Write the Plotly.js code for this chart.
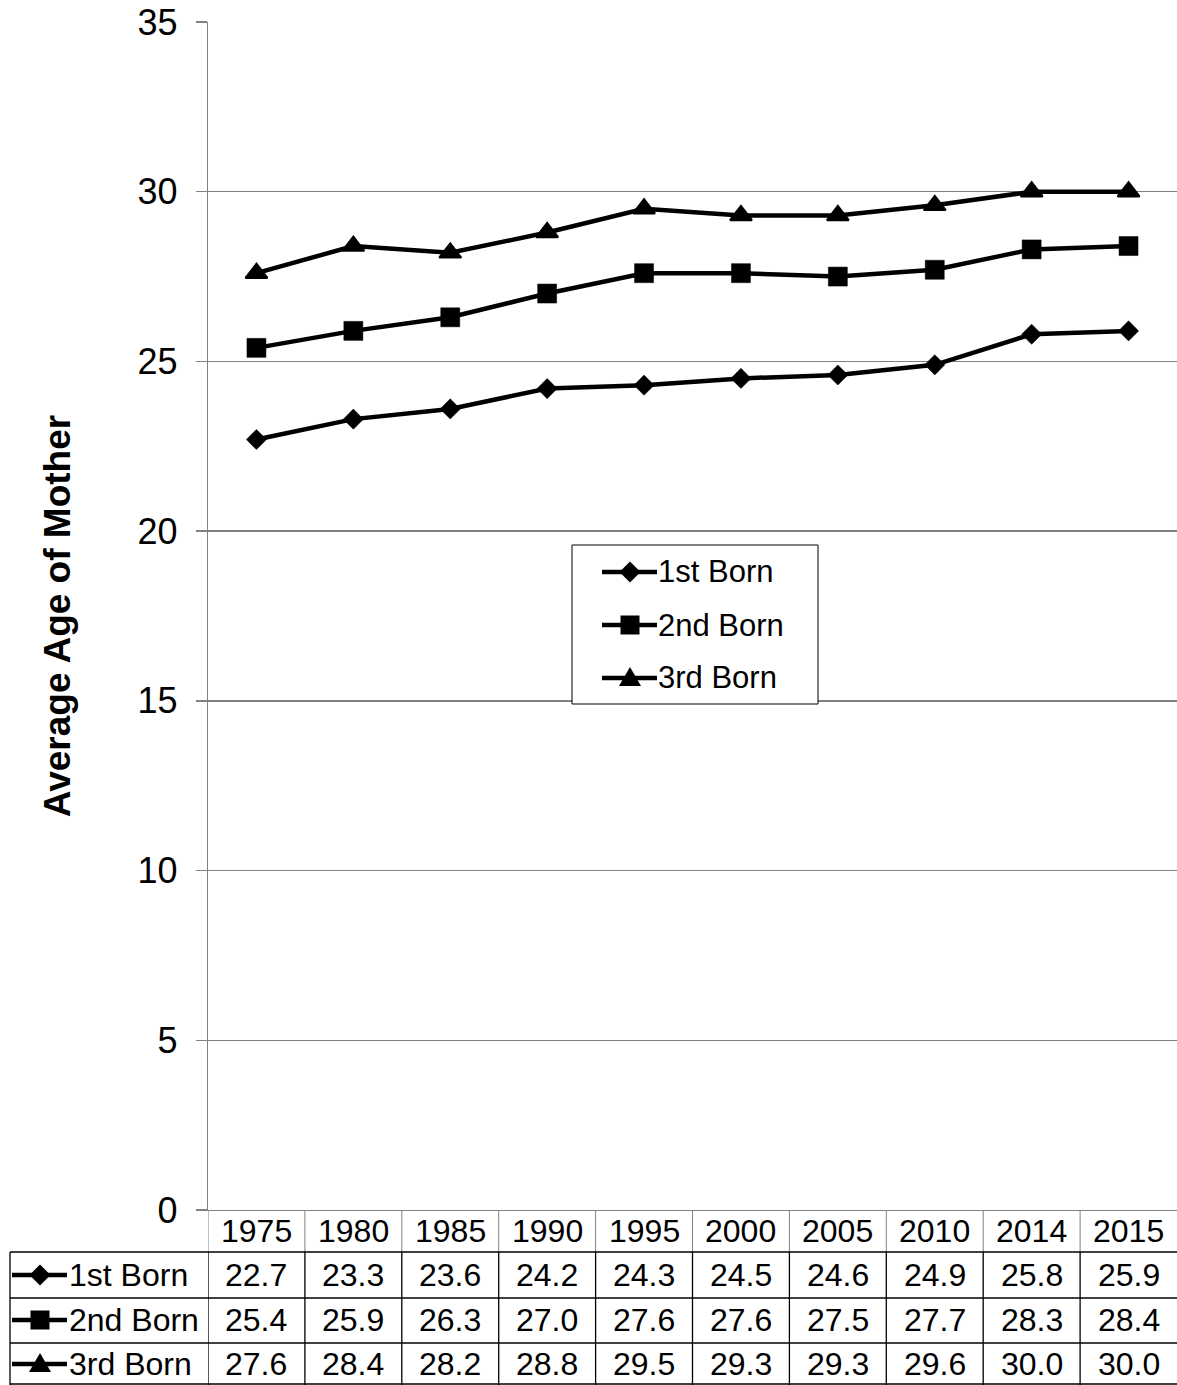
<!DOCTYPE html>
<html><head><meta charset="utf-8">
<script src="https://cdn.plot.ly/plotly-3.0.1.min.js"></script>
<style>body{margin:0;background:#fff}</style>
</head><body>
<div id="chart" style="width:1177px;height:1385px"></div>
<script>
const years = ['1975','1980','1985','1990','1995','2000','2005','2010','2014','2015'];
const firstBorn  = [22.7,23.3,23.6,24.2,24.3,24.5,24.6,24.9,25.8,25.9];
const secondBorn = [25.4,25.9,26.3,27.0,27.6,27.6,27.5,27.7,28.3,28.4];
const thirdBorn  = [27.6,28.4,28.2,28.8,29.5,29.3,29.3,29.6,30.0,30.0];
const seriesNames = ['1st Born','2nd Born','3rd Born'];
const yTitle = 'Average Age of Mother';
const yTicks = [0,5,10,15,20,25,30,35];

const FONT = 'Liberation Sans, Arial, Helvetica, sans-serif';
const W = 1177, H = 1385, ML = 208, MR = 0, MT = 22, MB = 175;
const PW = W - ML - MR, PH = H - MT - MB;
// pixel -> paper helpers for decorations (table grid, legend keys)
const px = x => (x - ML) / PW;
const py = y => (H - MB - y) / PH;

const seriesData = [firstBorn, secondBorn, thirdBorn];
const markerSpecs = [
  {symbol:'diamond', size:15.5, lw:0.5},
  {symbol:'square', size:19, lw:0.5},
  {symbol:'triangle-up', size:19, lw:2}
];

const traces = seriesData.map((vals, i) => ({
  type:'scatter', mode:'lines+markers', name: seriesNames[i],
  x: years, y: vals, showlegend:false,
  line:{color:'#000', width:4.5},
  marker:{color:'#000', symbol: markerSpecs[i].symbol, size: markerSpecs[i].size, line:{width:markerSpecs[i].lw,color:'#000'}},
  cliponaxis:false
}));

const shapes = [];
const annotations = [];

function pline(x0,y0,x1,y1,color,width){
  shapes.push({type:'line', xref:'paper', yref:'paper', x0:px(x0), y0:py(y0), x1:px(x1), y1:py(y1),
    line:{color:color, width:width}, layer:'above'});
}
function keyMarker(kind, cx, cy){
  let pts;
  if(kind===0){ const h=10.5; pts=[[cx-h,cy],[cx,cy-h],[cx+h,cy],[cx,cy+h]]; }
  else if(kind===1){ const h=9.5; pts=[[cx-h,cy-h],[cx+h,cy-h],[cx+h,cy+h],[cx-h,cy+h]]; }
  else { pts=[[cx-11,cy+8],[cx+11,cy+8],[cx,cy-11]]; }
  const path = 'M' + pts.map(p => px(p[0]).toFixed(5)+','+py(p[1]).toFixed(5)).join(' L') + ' Z';
  shapes.push({type:'path', xref:'paper', yref:'paper', path:path, fillcolor:'#000', line:{width:0}, layer:'above'});
}
function key(kind, x0, x1, cx, cy){
  pline(x0, cy, x1, cy, '#000', 4.5);
  keyMarker(kind, cx, cy);
}

// legend box
shapes.push({type:'rect', xref:'paper', yref:'paper', x0:px(572), x1:px(818), y0:py(545), y1:py(704),
  fillcolor:'#fff', line:{color:'#000', width:1}, layer:'above'});
const legendRows = [572, 625, 678];
seriesNames.forEach((n, i) => {
  key(i, 602, 657, 630, legendRows[i]);
  annotations.push({xref:'paper', yref:'paper', x:px(656), y:py(legendRows[i]), xanchor:'left', yanchor:'middle',
    text:n, showarrow:false, font:{family:FONT, size:31, color:'#000'}});
});

// data table
const headerTop = 1210, headerBot = 1252, rowLines = [1252, 1298, 1343, 1384];
const rowCenters = [1275, 1320, 1364];
const tableLeft = 10;
for (let i = 0; i <= years.length - 1; i++) {
  shapes.push({type:'line', xref:'x', yref:'paper', x0:i-0.5, x1:i-0.5, y0:py(headerTop), y1:py(headerBot),
    line:{color:'#808080', width:1}, layer:'above'});
  shapes.push({type:'line', xref:'x', yref:'paper', x0:i-0.5, x1:i-0.5, y0:py(headerBot), y1:py(1385),
    line:{color:'#000', width:1.3}, layer:'above'});
}
shapes.push({type:'line', xref:'paper', yref:'paper', x0:px(tableLeft), x1:px(tableLeft), y0:py(headerBot), y1:py(1385),
  line:{color:'#000', width:1.3}, layer:'above'});
rowLines.forEach(y => pline(tableLeft, y, W, y, '#000', 1.3));

years.forEach((yr, i) => {
  annotations.push({xref:'x', yref:'paper', x:i, y:py(1231), xanchor:'center', yanchor:'middle',
    text:yr, showarrow:false, font:{family:FONT, size:32, color:'#000'}});
  seriesData.forEach((vals, s) => {
    annotations.push({xref:'x', yref:'paper', x:i, y:py(rowCenters[s]), xanchor:'center', yanchor:'middle',
      text:vals[i].toFixed(1), showarrow:false, font:{family:FONT, size:32, color:'#000'}});
  });
});
seriesNames.forEach((n, s) => {
  key(s, 12, 67, 40, rowCenters[s]);
  annotations.push({xref:'paper', yref:'paper', x:px(67), y:py(rowCenters[s]), xanchor:'left', yanchor:'middle',
    text:n, showarrow:false, font:{family:FONT, size:32, color:'#000'}});
});

const layout = {
  width: W, height: H,
  margin:{l:ML, r:MR, t:MT, b:MB, pad:0},
  paper_bgcolor:'#fff', plot_bgcolor:'#fff',
  showlegend:false,
  font:{family:FONT, color:'#000'},
  xaxis:{type:'category', range:[-0.5, years.length-0.5], showticklabels:false, ticks:'',
    showgrid:false, zeroline:false, showline:true, linecolor:'#808080', linewidth:1.3, fixedrange:true},
  yaxis:{range:[0,35], tickvals:yTicks, ticks:'outside', ticklen:11, tickcolor:'#808080', tickwidth:1.3,
    showline:true, linecolor:'#808080', linewidth:1.3, gridcolor:'#808080', gridwidth:1.3, zeroline:false,
    tickfont:{family:FONT, size:36, color:'#000'}, ticklabelstandoff:11,
    title:{text:'<b>'+yTitle+'</b>', font:{family:FONT, size:37, color:'#000'}, standoff:55},
    fixedrange:true},
  shapes: shapes,
  annotations: annotations
};

Plotly.newPlot('chart', traces, layout, {displayModeBar:false, staticPlot:true});
</script>
</body></html>
